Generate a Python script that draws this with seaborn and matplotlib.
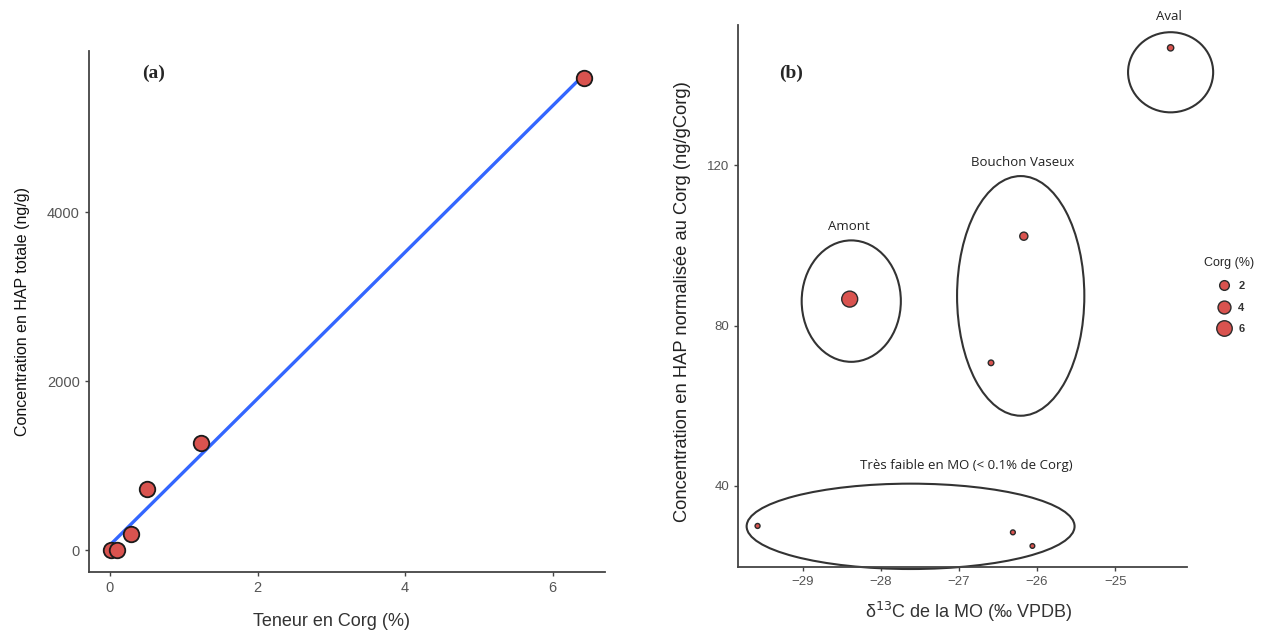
import numpy as np
import pandas as pd
import matplotlib
matplotlib.use("Agg")
import matplotlib.pyplot as plt
from matplotlib.patches import Ellipse
from matplotlib.lines import Line2D
import seaborn as sns

# ---------------- data ----------------
# Panel (a): total PAH concentration vs organic carbon content
corg_a = [0.02, 0.09, 0.28, 0.50, 1.24, 6.42]
hap_total = [0, 5, 185, 724, 1262, 5586]

# Panel (b): d13C vs PAH normalised to Corg
d13c_b = [-24.29, -28.40, -26.17, -26.59, -29.58, -26.31, -26.06]
hap_norm = [149.3, 86.6, 102.3, 70.7, 30.0, 28.4, 25.0]
corg_b = [0.50, 6.42, 1.24, 0.28, 0.09, 0.06, 0.02]

# group annotations (label, label x, label y, ellipse centre x, centre y, width, height)
groups = ["Aval", "Amont", "Bouchon Vaseux", "Très faible en MO (< 0.1% de Corg)"]
group_label_x = [-24.31, -28.41, -26.18, -26.91]
group_label_y = [157.0, 104.6, 120.8, 45.1]
ell_cx = [-24.29, -28.38, -26.21, -27.62]
ell_cy = [143.2, 86.1, 87.4, 29.9]
ell_w = [1.09, 1.27, 1.63, 4.20]
ell_h = [20.0, 30.3, 59.8, 21.3]

legend_sizes = [2, 4, 6]

# ---------------- style ----------------
sns.set_theme(style="white")
plt.rcParams["font.family"] = ["Liberation Sans", "DejaVu Sans"]

fill = "#D9534F"
edge = "#2b2b2b"
tick_col = "#555555"
spine_col = "#444444"

fig = plt.figure(figsize=(12.78, 6.31), dpi=100)
axa = fig.add_axes([0.0696, 0.0935, 0.4038, 0.8255])
axb = fig.add_axes([0.5775, 0.1014, 0.3513, 0.8590])

for ax in (axa, axb):
    for s in ("top", "right"):
        ax.spines[s].set_visible(False)
    for s in ("left", "bottom"):
        ax.spines[s].set_color(spine_col)
        ax.spines[s].set_linewidth(1.3)
    ax.tick_params(axis="both", direction="out", length=3, width=1.0,
                   color=spine_col, labelcolor=tick_col, left=True, bottom=True)

# ---------------- panel (a) ----------------
dfa = pd.DataFrame({"corg": corg_a, "hap": hap_total})
sns.regplot(data=dfa, x="corg", y="hap", ax=axa, scatter=False, ci=None,
            color="#3366FF", line_kws={"lw": 2.4, "zorder": 2})
sns.scatterplot(data=dfa, x="corg", y="hap", ax=axa, s=125, color=fill,
                edgecolor="#1a1a1a", linewidth=1.3, zorder=3, legend=False)
axa.set_xlim(-0.285, 6.71)
axa.set_ylim(-260, 5905)
axa.set_xticks([0, 2, 4, 6])
axa.set_yticks([0, 2000, 4000])
axa.tick_params(labelsize=10.5)
axa.set_xlabel("Teneur en Corg (%)", fontsize=13, color="#333333")
axa.set_ylabel("Concentration en HAP totale (ng/g)", fontsize=11.5, color="#111111",
               fontstretch="condensed")
axa.xaxis.set_label_coords(0.47, -0.078)
axa.yaxis.set_label_coords(-0.115, 0.5)
axa.text(0.125, 0.957, "(a)", transform=axa.transAxes, fontsize=14, fontweight="bold",
         family=["Liberation Serif", "DejaVu Serif"], ha="center", va="center")

# ---------------- panel (b) ----------------
dfb = pd.DataFrame({"d13c": d13c_b, "hap": hap_norm, "corg": corg_b})
smin, smax, vmax = 11, 132, 6.42
sns.scatterplot(data=dfb, x="d13c", y="hap", size="corg", sizes=(smin, smax),
                size_norm=(0, vmax), ax=axb, color=fill, edgecolor=edge,
                linewidth=1.0, zorder=3, legend=False)
for lab, lx, ly, cx, cy, w, h in zip(groups, group_label_x, group_label_y,
                                     ell_cx, ell_cy, ell_w, ell_h):
    axb.add_patch(Ellipse((cx, cy), w, h, fill=False, edgecolor="#333333",
                          linewidth=1.5, clip_on=False, zorder=2))
    axb.text(lx, ly, lab, fontsize=9.5, ha="center", va="center", color="#222222",
             family=["Open Sans", "DejaVu Sans"], clip_on=False)
axb.set_xlim(-29.83, -24.08)
axb.set_ylim(19.75, 155)
axb.set_xticks([-29, -28, -27, -26, -25])
axb.set_yticks([40, 80, 120])
axb.set_xticklabels(["\u221229", "\u221228", "\u221227", "\u221226", "\u221225"])
axb.tick_params(labelsize=9.5)
axb.set_xlabel("\u03b4$^{13}$C de la MO (\u2030 VPDB)", fontsize=13, color="#333333")
axb.set_ylabel("Concentration en HAP normalisée au Corg (ng/gCorg)", fontsize=13.2,
               color="#222222")
axb.xaxis.set_label_coords(0.514, -0.06)
axb.yaxis.set_label_coords(-0.105, 0.49)
axb.text(-29.15, 143, "(b)", fontsize=14, fontweight="bold",
         family=["Liberation Serif", "DejaVu Serif"], ha="center", va="center")

handles = []
for v in legend_sizes:
    s = smin + (smax - smin) * v / vmax
    handles.append(Line2D([], [], marker="o", linestyle="none", markersize=np.sqrt(s),
                          markerfacecolor=fill, markeredgecolor=edge, markeredgewidth=1.0))
leg = fig.legend(handles, [str(v) for v in legend_sizes], title="Corg (%)",
                 loc="upper left", bbox_to_anchor=(0.9365, 0.603), frameon=False,
                 fontsize=8, title_fontsize=9, handletextpad=0.3,
                 labelspacing=1.05, borderpad=0.1)
for t in leg.get_texts():
    t.set_fontweight("bold")
    t.set_color("#333333")

fig.savefig("out.png", dpi=100)
